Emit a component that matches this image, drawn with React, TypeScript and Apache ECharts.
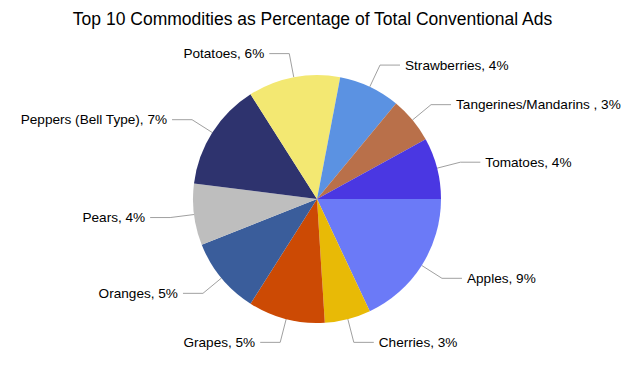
import React, { useEffect, useRef } from "react";
import * as echarts from "echarts";

const categories = [
  "Apples",
  "Cherries",
  "Grapes",
  "Oranges",
  "Pears",
  "Peppers (Bell Type)",
  "Potatoes",
  "Strawberries",
  "Tangerines/Mandarins ",
  "Tomatoes",
];
const percents = [9, 3, 5, 5, 4, 7, 6, 4, 3, 4];
const colors = [
  "#6b7af7",
  "#e8ba06",
  "#cc4a04",
  "#3a5d9b",
  "#bebebe",
  "#2e336e",
  "#f3e872",
  "#5b92e2",
  "#b9704a",
  "#4a37e2",
];

export default function App() {
  const ref = useRef<HTMLDivElement>(null);
  useEffect(() => {
    const chart = echarts.init(ref.current!, null, { renderer: "svg" });
    chart.setOption({
      animation: false,
      backgroundColor: "#ffffff",
      title: {
        text: "Top 10 Commodities as Percentage of Total Conventional Ads",
        left: "center",
        top: 5,
        textStyle: {
          fontFamily: "Liberation Sans",
          fontSize: 17.5,
          fontWeight: "normal",
          color: "#000",
        },
      },
      series: [
        {
          type: "pie",
          center: [317, 199],
          radius: 124,
          startAngle: 0,
          clockwise: true,
          avoidLabelOverlap: false,
          data: categories.map((c, i) => ({
            name: c,
            value: percents[i],
            itemStyle: { color: colors[i] },
          })),
          label: {
            show: true,
            formatter: "{b}, {c}%",
            fontFamily: "Liberation Sans",
            fontSize: 13.6,
            color: "#000",
          },
          labelLine: {
            show: true,
            length: 24,
            length2: 20,
            lineStyle: { color: "#a0a0a0", width: 1 },
          },
          emphasis: { disabled: true },
        },
      ],
    });
    return () => chart.dispose();
  }, []);
  return (
    <div
      ref={ref}
      style={{ position: "absolute", left: 0, top: 0, width: 625, height: 370 }}
    />
  );
}
